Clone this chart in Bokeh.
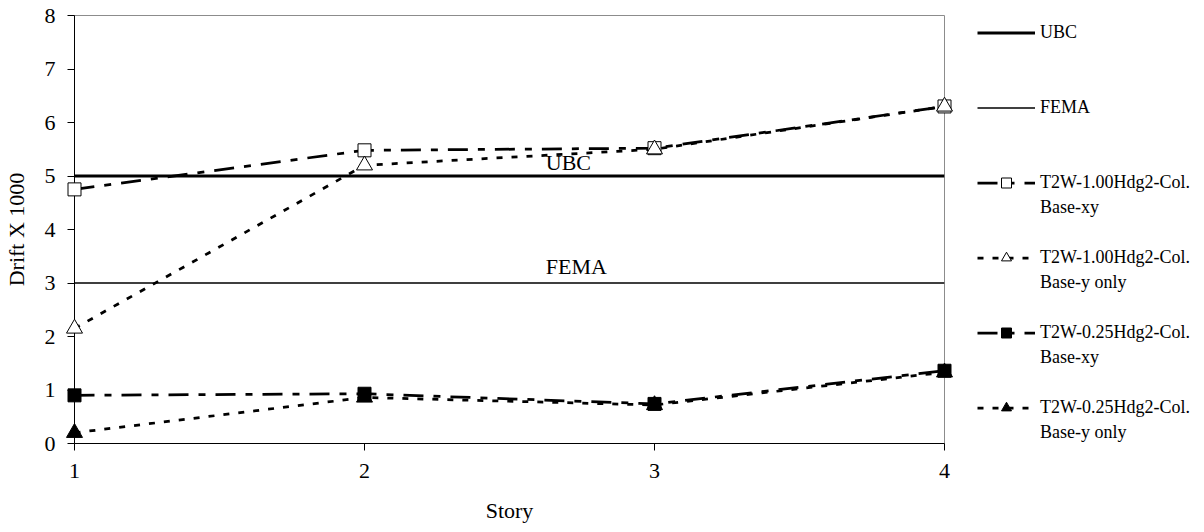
from bokeh.plotting import figure
from bokeh.layouts import row
from bokeh.models import Range1d, Legend, LegendItem, Label, FixedTicker
from bokeh.embed import file_html
from bokeh.resources import INLINE

# ---- data ----
stories = [1, 2, 3, 4]
ubc = [5, 5, 5, 5]
fema = [3, 3, 3, 3]
t100_xy = [4.75, 5.48, 5.52, 6.30]
t100_y = [2.15, 5.20, 5.50, 6.30]
t025_xy = [0.90, 0.93, 0.74, 1.36]
t025_y = [0.20, 0.86, 0.72, 1.33]
x_ticks = [1, 2, 3, 4]
y_ticks = [0, 1, 2, 3, 4, 5, 6, 7, 8]
legend_first = ["UBC", "FEMA", "T2W-1.00Hdg2-Col.", "T2W-1.00Hdg2-Col.",
                "T2W-0.25Hdg2-Col.", "T2W-0.25Hdg2-Col."]
legend_second = [None, None, "Base-xy", "Base-y only", "Base-xy", "Base-y only"]

FONT = "Liberation Serif"
LDD = "20 10 7 10"
SD = "6 9"

# styles per series
line_styles = [
    dict(line_color="black", line_width=3),
    dict(line_color="black", line_width=1.3),
    dict(line_color="black", line_width=2.75, line_dash=LDD),
    dict(line_color="black", line_width=2.75, line_dash=SD),
    dict(line_color="black", line_width=2.75, line_dash=LDD),
    dict(line_color="black", line_width=2.75, line_dash=SD),
]
marker_styles = [
    None,
    None,
    dict(marker="square", size=13, fill_color="white", line_color="black", line_width=1),
    dict(marker="triangle", size=16, fill_color="white", line_color="black", line_width=1),
    dict(marker="square", size=13, fill_color="black", line_color="black", line_width=1),
    dict(marker="triangle", size=16, fill_color="black", line_color="black", line_width=1),
]
series_values = [ubc, fema, t100_xy, t100_y, t025_xy, t025_y]

p = figure(width=954, height=532, output_backend="svg", toolbar_location=None,
           x_range=Range1d(1, 4), y_range=Range1d(0, 8),
           min_border_left=74, min_border_right=10, min_border_top=15,
           min_border_bottom=89)
p.background_fill_color = "white"
p.border_fill_color = "white"
p.outline_line_color = "#8c8c8c"
p.outline_line_width = 1
p.xgrid.visible = False
p.ygrid.visible = False

for ax in (p.xaxis[0], p.yaxis[0]):
    ax.axis_line_color = "black"
    ax.axis_line_width = 1
    ax.major_tick_line_color = "black"
    ax.major_tick_in = 0
    ax.major_tick_out = 7
    ax.minor_tick_line_color = None
    ax.major_label_text_font = FONT
    ax.major_label_text_font_size = "22px"
    ax.major_label_text_color = "black"
    ax.axis_label_text_font = FONT
    ax.axis_label_text_font_size = "22px"
    ax.axis_label_text_font_style = "normal"
    ax.axis_label_text_color = "black"

p.xaxis.ticker = FixedTicker(ticks=x_ticks)
p.yaxis.ticker = FixedTicker(ticks=y_ticks)
p.xaxis.axis_label = "Story"
p.yaxis.axis_label = "Drift X 1000"
p.xaxis.major_label_standoff = 13
p.xaxis.axis_label_standoff = 17
p.yaxis.major_label_standoff = 12
p.yaxis.axis_label_standoff = 13

for vals, ls in zip(series_values, line_styles):
    p.line(stories, vals, **ls)
for vals, ms in zip(series_values, marker_styles):
    if ms is not None:
        p.scatter(stories, vals, level="overlay", **ms)

# in-chart labels
p.add_layout(Label(x=2.625, y=5, text="UBC", text_font=FONT, text_font_size="22px",
                   text_baseline="bottom", y_offset=1, text_color="black"))
p.add_layout(Label(x=2.625, y=3, text="FEMA", text_font=FONT, text_font_size="22px",
                   text_baseline="bottom", y_offset=4, text_color="black"))

# ---- legend panel (separate figure; its ranges keep the series out of view) ----
q = figure(width=250, height=532, output_backend="svg", toolbar_location=None,
           x_range=Range1d(-1, 0), y_range=Range1d(0, 8),
           x_axis_location=None, y_axis_location=None,
           min_border=0, min_border_left=0, min_border_right=0,
           min_border_top=0, min_border_bottom=0)
q.outline_line_color = None
q.xgrid.visible = False
q.ygrid.visible = False
q.background_fill_color = "white"
q.border_fill_color = "white"

blank = q.line(stories, ubc, line_alpha=0)
series_renderers = []
for vals, ls, ms in zip(series_values, line_styles, marker_styles):
    rends = [q.line(stories, vals, **ls)]
    if ms is not None:
        rends.append(q.scatter(stories, vals, **ms))
    series_renderers.append(rends)

# legend rows on a 25px grid
row_index = [0, 3, 6, 9, 12, 15]
rows = [(" ", [blank]) for _ in range(17)]
for k, (lab, rends, sec) in enumerate(zip(legend_first, series_renderers, legend_second)):
    rows[row_index[k]] = (lab, rends)
    if sec is not None:
        rows[row_index[k] + 1] = (sec, [blank])
items = [LegendItem(label=lab, renderers=rends) for lab, rends in rows]

legend = Legend(items=items, location=(23, -2), padding=0, margin=0,
                spacing=0, glyph_width=58, glyph_height=25, label_height=25,
                label_standoff=5, border_line_color=None, background_fill_alpha=0,
                label_text_font=FONT, label_text_font_size="18px",
                label_text_color="black")
q.add_layout(legend)

layout = row(p, q)
open("out.html", "w").write(file_html(layout, INLINE))
